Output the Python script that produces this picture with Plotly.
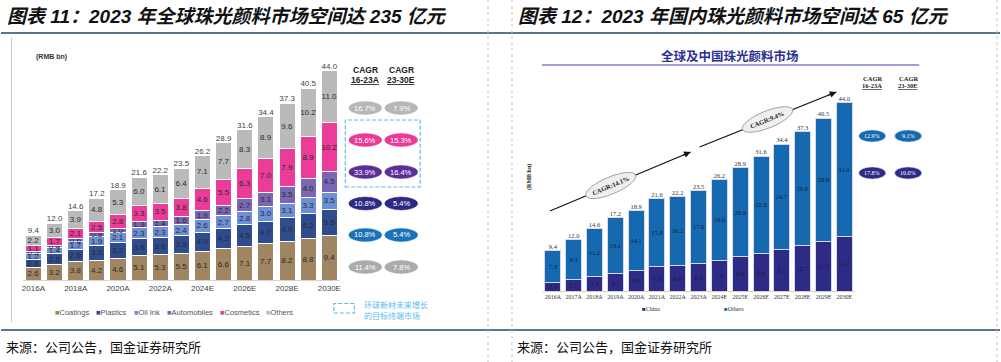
import math
import plotly.graph_objects as go

W, H = 1001, 362


def px(x):
    return x / W


def py(y):
    return 1 - y / H


# ---------------- data ----------------
years = ["2016A", "2017A", "2018A", "2019A", "2020A", "2021A", "2022A", "2023A",
         "2024E", "2025E", "2026E", "2027E", "2028E", "2029E", "2030E"]

coatings = [2.6, 3.2, 3.8, 4.2, 4.6, 5.1, 5.3, 5.5, 6.1, 6.6, 7.1, 7.7, 8.2, 8.8, 9.4]
plastics = [1.8, 2.3, 2.6, 3.0, 3.2, 3.6, 3.6, 3.8, 4.0, 4.2, 4.5, 4.7, 4.9, 5.2, 5.5]
oil_ink = [1.2, 1.4, 1.7, 1.9, 2.1, 2.3, 2.3, 2.4, 2.6, 2.7, 2.8, 3.0, 3.1, 3.3, 3.5]
automobiles = [0.5, 0.4, 0.6, 0.8, 1.0, 1.3, 1.4, 1.6, 1.9, 2.2, 2.7, 3.1, 3.5, 4.0, 4.5]
cosmetics = [1.1, 1.7, 2.1, 2.5, 2.8, 3.3, 3.5, 3.8, 4.6, 5.5, 6.3, 7.0, 7.9, 8.9, 10.2]
others_global = [2.2, 3.0, 3.9, 4.8, 5.3, 6.0, 6.1, 6.4, 7.1, 7.7, 8.3, 8.9, 9.6, 10.2, 11.0]
totals = [9.4, 12.0, 14.6, 17.2, 18.9, 21.6, 22.2, 23.5, 26.2, 28.9, 31.6, 34.4, 37.3, 40.5, 44.0]

china = [2.1, 2.7, 3.4, 4.1, 4.8, 5.8, 6.0, 6.5, 7.2, 8.0, 8.8, 9.7, 10.7, 11.7, 12.7]
others_cn = [7.3, 9.3, 11.2, 13.1, 14.1, 15.8, 16.2, 17.0, 19.0, 20.9, 22.8, 24.7, 26.6, 28.8, 31.4]

segment_names = ["Coatings", "Plastics", "Oil Ink", "Automobiles", "Cosmetics", "Others"]
cagr_global_1623 = ["16.7%", "15.6%", "33.9%", "10.8%", "10.8%", "11.4%"]
cagr_global_2330 = ["7.9%", "15.3%", "16.4%", "5.4%", "5.4%", "7.8%"]
cagr_cn_1623 = ["12.9%", "17.8%"]
cagr_cn_2330 = ["9.1%", "10.0%"]
trend_labels = ["CAGR:14.1%", "CAGR:9.4%"]

title_left = "图表 11：2023 年全球珠光颜料市场空间达 235 亿元"
title_right = "图表 12：2023 年国内珠光颜料市场空间达 65 亿元"
subtitle_right = "全球及中国珠光颜料市场"
source_text = "来源：公司公告，国金证券研究所"
note_text = ["环球新材未来增长", "的目标终端市场"]

# ---------------- styles ----------------
seg_colors = ["#a08562", "#2f4c8e", "#6c8fd7", "#7a66b3", "#ea3c98", "#bababa"]
ell_colors_left = ["#b6b6b6", "#e83a96", "#5b2f98", "#2d2a86", "#1a73b8", "#ababab"]
cn_colors = ["#2d2b86", "#1469b1"]
SANS = "Liberation Sans, Arial, Noto Sans CJK SC"
SERIF = "Liberation Serif, Times New Roman, Noto Sans CJK SC"
CJK = "Liberation Sans, Noto Sans CJK SC"

idx = list(range(len(years)))
fig = go.Figure()

# ---------------- left chart ----------------
for vals, name, col in zip([coatings, plastics, oil_ink, automobiles, cosmetics, others_global],
                           segment_names, seg_colors):
    tf = dict(size=8, color="#2a2a2a", family=SANS)
    fig.add_trace(go.Bar(
        x=idx, y=vals, name=name, marker=dict(color=col, line=dict(color="white", width=1)),
        width=0.76, text=[f"{v:.1f}" for v in vals], textposition="inside",
        insidetextanchor="middle", textangle=0, constraintext="none",
        textfont=tf, insidetextfont=tf,
        xaxis="x", yaxis="y", showlegend=False, hoverinfo="skip"))

fig.add_trace(go.Scatter(
    x=idx, y=totals, mode="text", text=[f"{v:.1f}" for v in totals],
    textposition="top center", textfont=dict(size=8, color="#444", family=SANS),
    xaxis="x", yaxis="y", showlegend=False, hoverinfo="skip", cliponaxis=False))

# ---------------- right chart ----------------
for vals, name, col in zip([china, others_cn], ["China", "Others"], cn_colors):
    tf = dict(size=6.5, color="#1b1b2e", family=SERIF)
    fig.add_trace(go.Bar(
        x=idx, y=vals, name=name, marker=dict(color=col, line=dict(color="#d8d8e8", width=1)),
        width=0.77, text=[f"{v:.1f}" for v in vals], textposition="inside",
        insidetextanchor="middle", textangle=0, constraintext="none",
        textfont=tf, insidetextfont=tf,
        xaxis="x2", yaxis="y2", showlegend=False, hoverinfo="skip"))

fig.add_trace(go.Scatter(
    x=idx, y=[a + b for a, b in zip(china, others_cn)], mode="text",
    text=[f"{v:.1f}" for v in totals],
    textposition="top center", textfont=dict(size=6.5, color="#333", family=SERIF),
    xaxis="x2", yaxis="y2", showlegend=False, hoverinfo="skip", cliponaxis=False))

shapes = []
annotations = []


def ann(x, y, text, size, color="#222", family=SANS, xanchor="center", yanchor="middle", **kw):
    annotations.append(dict(x=px(x), y=py(y), xref="paper", yref="paper", text=text,
                            showarrow=False, xanchor=xanchor, yanchor=yanchor,
                            font=dict(size=size, color=color, family=family), **kw))


def hline(x0, x1, y, color, width=1, dash="solid"):
    shapes.append(dict(type="line", xref="paper", yref="paper", x0=px(x0), x1=px(x1),
                       y0=py(y), y1=py(y), line=dict(color=color, width=width, dash=dash)))


def vline(x, y0, y1, color, width=1, dash="solid"):
    shapes.append(dict(type="line", xref="paper", yref="paper", x0=px(x), x1=px(x),
                       y0=py(y0), y1=py(y1), line=dict(color=color, width=width, dash=dash)))


def ellipse(cx, cy, w, h, fill, line_color=None):
    shapes.append(dict(type="circle", xref="paper", yref="paper",
                       x0=px(cx - w / 2), x1=px(cx + w / 2), y0=py(cy + h / 2), y1=py(cy - h / 2),
                       fillcolor=fill, line=dict(color=line_color or fill, width=0.5)))


def rot_ellipse(cx, cy, a, b, ang, fill, line_color):
    t = math.radians(ang)
    pts = []
    for k in range(48):
        th = 2 * math.pi * k / 48
        ex, ey = a * math.cos(th), b * math.sin(th)
        x = cx + ex * math.cos(t) + ey * math.sin(t)
        y = cy - ex * math.sin(t) + ey * math.cos(t)
        pts.append(f"{px(x):.5f},{py(y):.5f}")
    path = "M " + " L ".join(pts) + " Z"
    shapes.append(dict(type="path", xref="paper", yref="paper", path=path,
                       fillcolor=fill, line=dict(color=line_color, width=0.8)))


# frame lines
hline(0, W, 33, "#1d4a70", 1.5)
hline(0, W, 330, "#1d4a70", 1.5)
vline(488, 0, H, "#c4c4c4", 1, "dot")
vline(512, 0, H, "#c4c4c4", 1, "dot")
vline(998, 0, H, "#c4c4c4", 1, "dot")
vline(10.5, 38, 322, "#c8c8c8", 1)

# titles and sources
ann(4, 16, f"<b><i>{title_left}</i></b>", 19, "#111", CJK, xanchor="left")
ann(516, 16, f"<b><i>{title_right}</i></b>", 19, "#111", CJK, xanchor="left")
ann(3, 347, source_text, 13, "#111", CJK, xanchor="left")
ann(515, 347, source_text, 13, "#111", CJK, xanchor="left")

# left chart extras
ann(33, 57, "<b>(RMB bn)</b>", 7, "#333", SANS, xanchor="left")
for cx, lab in [(365, "16-23A"), (401, "23-30E")]:
    ann(cx, 70, "<b>CAGR</b>", 8.5, "#222")
    ann(cx, 79.5, f"<b><u>{lab}</u></b>", 8.5, "#222")
row_y = [108, 140, 172, 203.5, 235, 267]
for i, ry in enumerate(row_y):
    ellipse(365, ry, 33, 13, ell_colors_left[i])
    ellipse(401, ry, 33, 13, ell_colors_left[i])
    ann(365, ry, cagr_global_1623[i], 7.5, "white")
    ann(401, ry, cagr_global_2330[i], 7.5, "white")
shapes.append(dict(type="rect", xref="paper", yref="paper", x0=px(345), x1=px(420),
                   y0=py(187), y1=py(120), line=dict(color="#5bbdec", width=1.2, dash="4px,2px")))

# left legend (manual)
leg_x = [52, 93, 131, 164, 217, 264]
for xx, name, col in zip(leg_x, segment_names, seg_colors):
    ann(xx, 312, f"<span style='color:{col}'>■</span>{name}", 7.5, "#555", SANS, xanchor="left")
shapes.append(dict(type="rect", xref="paper", yref="paper", x0=px(333.5), x1=px(354),
                   y0=py(313), y1=py(303.5), line=dict(color="#5bbdec", width=1.2, dash="4px,2px")))
ann(362, 305, note_text[0], 8, "#5bbdec", CJK, xanchor="left")
ann(362, 316, note_text[1], 8, "#5bbdec", CJK, xanchor="left")

# right chart extras
ann(730, 56, f"<b>{subtitle_right}</b>", 12.5, "#2e3192", CJK)
hline(542, 920, 65, "#7a7fc6", 1.5)
ann(529, 177, "<b>(RMB bn)</b>", 6, "#222", SERIF, textangle=-90)
for cx, lab in [(873, "16-23A"), (909, "23-30E")]:
    ann(cx, 78, "<b>CAGR</b>", 6.5, "#222", SERIF)
    ann(cx, 85.5, f"<b><u>{lab}</u></b>", 6.5, "#222", SERIF)
for i, ry in enumerate([136, 173]):
    ellipse(873, ry, 27, 12, cn_colors[1 - i], "#c9d4ea")
    ellipse(909, ry, 27, 12, cn_colors[1 - i], "#c9d4ea")
    ann(873, ry, cagr_cn_1623[i], 6, "white", SERIF)
    ann(909, ry, cagr_cn_2330[i], 6, "white", SERIF)

# trend arrows with rotated ellipses
arrows = [((550, 211), (691, 152), (611, 185.5)), ((700, 147), (837, 92), (768, 119.5))]
for (t, h, c), lab in zip(arrows, trend_labels):
    shapes.append(dict(type="line", xref="paper", yref="paper", x0=px(t[0]), y0=py(t[1]),
                       x1=px(h[0]), y1=py(h[1]), line=dict(color="#111", width=1.2)))
    ang = math.degrees(math.atan2(t[1] - h[1], h[0] - t[0]))
    rot_ellipse(c[0], c[1], 27, 8.5, ang, "#efefef", "#8a8a8a")
    ann(c[0], c[1], f"<b>{lab}</b>", 6.5, "#222", SERIF, textangle=-ang)
    dx, dy = h[0] - t[0], h[1] - t[1]
    L = math.hypot(dx, dy)
    annotations.append(dict(x=px(h[0]), y=py(h[1]), xref="paper", yref="paper", text="",
                            showarrow=True, arrowhead=2, arrowsize=1.1, arrowwidth=1.2,
                            arrowcolor="#111", ax=-dx / L * 10, ay=-dy / L * 10,
                            axref="pixel", ayref="pixel", standoff=0))

# right legend (manual)
ann(640, 309, f"<span style='color:{cn_colors[0]}'>■</span>China", 6, "#333", SERIF, xanchor="left")
ann(722, 309, f"<span style='color:{cn_colors[1]}'>■</span>Others", 6, "#333", SERIF, xanchor="left")

fig.update_layout(
    width=W, height=H, autosize=False,
    margin=dict(l=0, r=0, t=0, b=0),
    paper_bgcolor="white", plot_bgcolor="white",
    barmode="stack", showlegend=False,
    font=dict(family=SANS),
    xaxis=dict(domain=[px(21.9), px(339.6)], range=[-0.5, 14.5],
               tickvals=idx[::2], ticktext=years[::2],
               tickfont=dict(size=8, color="#444", family=SANS),
               showline=True, linecolor="#d4d4d4", linewidth=1, ticks="",
               showgrid=False, zeroline=False, fixedrange=True),
    yaxis=dict(domain=[py(280), py(42.5)], range=[0, 50], visible=False, fixedrange=True),
    xaxis2=dict(domain=[px(542.6), px(855.4)], range=[-0.5, 14.5], anchor="y2",
                tickvals=idx, ticktext=years,
                tickfont=dict(size=6, color="#333", family=SERIF),
                showline=True, linecolor="#cfcfcf", linewidth=1, ticks="",
                showgrid=False, zeroline=False, fixedrange=True),
    yaxis2=dict(domain=[py(291), py(77.5)], range=[0, 50], anchor="x2",
                visible=False, fixedrange=True),
    shapes=shapes, annotations=annotations,
)

fig.write_html("out.html", config={"displayModeBar": False},
               post_script="document.body.style.margin='0';document.body.style.overflow='hidden';")
